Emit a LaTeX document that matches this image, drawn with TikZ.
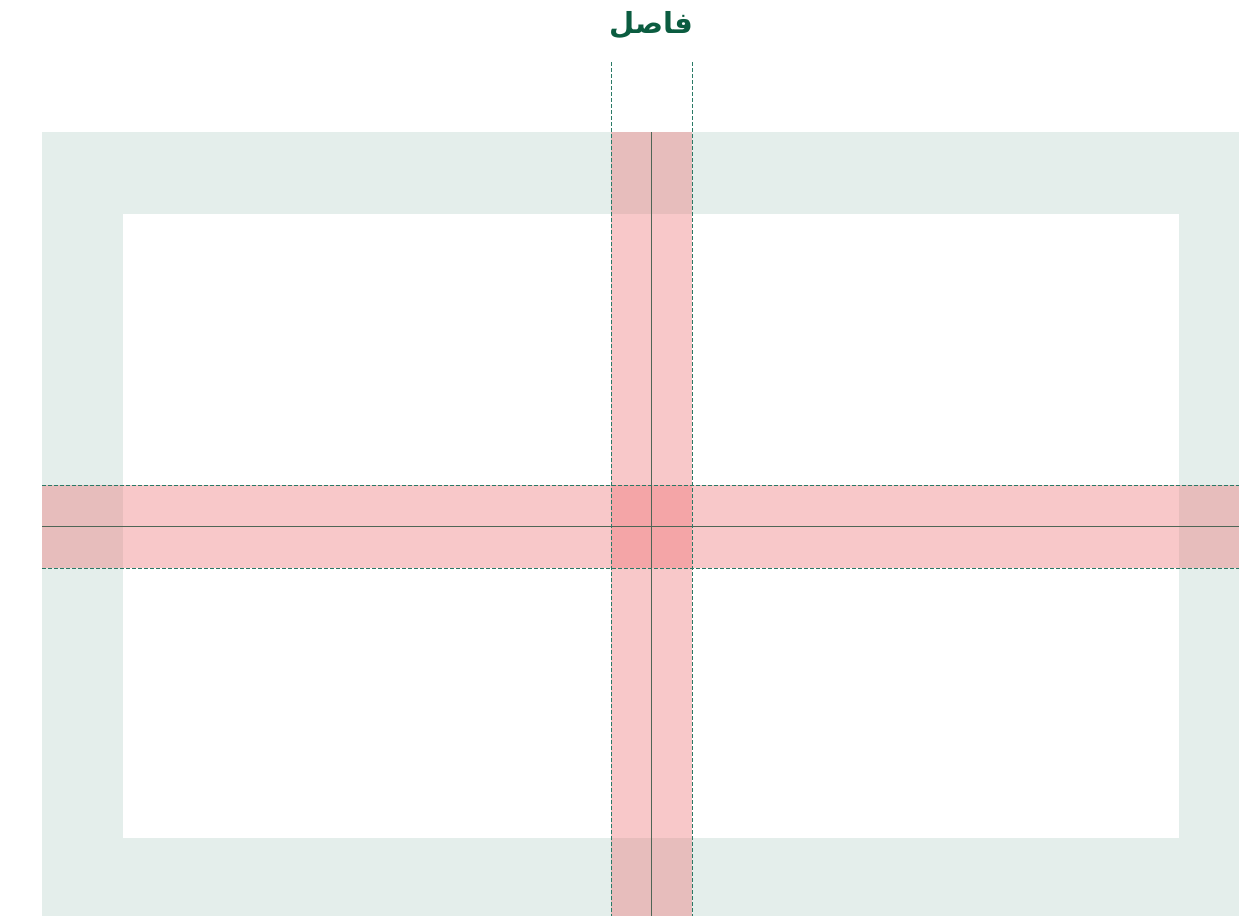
\documentclass[tikz,border=0pt]{standalone}
\usepackage{fontspec}
\newfontfamily\arabicfont[Script=Arabic]{DejaVu Sans}
\TeXXeTstate=1
\definecolor{bggreen}{HTML}{E4EEEB}
\definecolor{bandpink}{RGB}{238,104,107}
\definecolor{dashgreen}{HTML}{2A7A66}
\definecolor{linegray}{HTML}{4F6656}
\definecolor{titlegreen}{HTML}{0B5C40}
\tikzset{
  band/.style={fill=bandpink, fill opacity=0.36, draw=none},
  edgeline/.style={draw=dashgreen, line width=1pt, dash pattern=on 3.5pt off 2.5pt},
  midline/.style={draw=linegray, line width=0.9pt},
  titletext/.style={text=titlegreen, font=\arabicfont\bfseries\fontsize{29}{34}\selectfont, inner sep=0pt}
}
\begin{document}
\begin{tikzpicture}[x=1pt,y=-1pt]
\useasboundingbox (0,0) rectangle (1239,916);
% background frame
\fill[bggreen] (42,132) rectangle (1239,916);
\fill[white] (123,214) rectangle (1179,838);
% bands
\fill[band] (611,132) rectangle (692,916);
\fill[band] (42,485) rectangle (1239,568);
% center lines
\draw[midline] (651.5,132) -- (651.5,916);
\draw[midline] (42,526.5) -- (1239,526.5);
% dashed edges
\draw[edgeline] (611,62) -- (611,916);
\draw[edgeline] (692,62) -- (692,916);
\draw[edgeline] (42,485) -- (1239,485);
\draw[edgeline] (42,568) -- (1239,568);
% title
\node[titletext] (title) at (651,25) {\beginR فاصل\endR};
\end{tikzpicture}
\end{document}
